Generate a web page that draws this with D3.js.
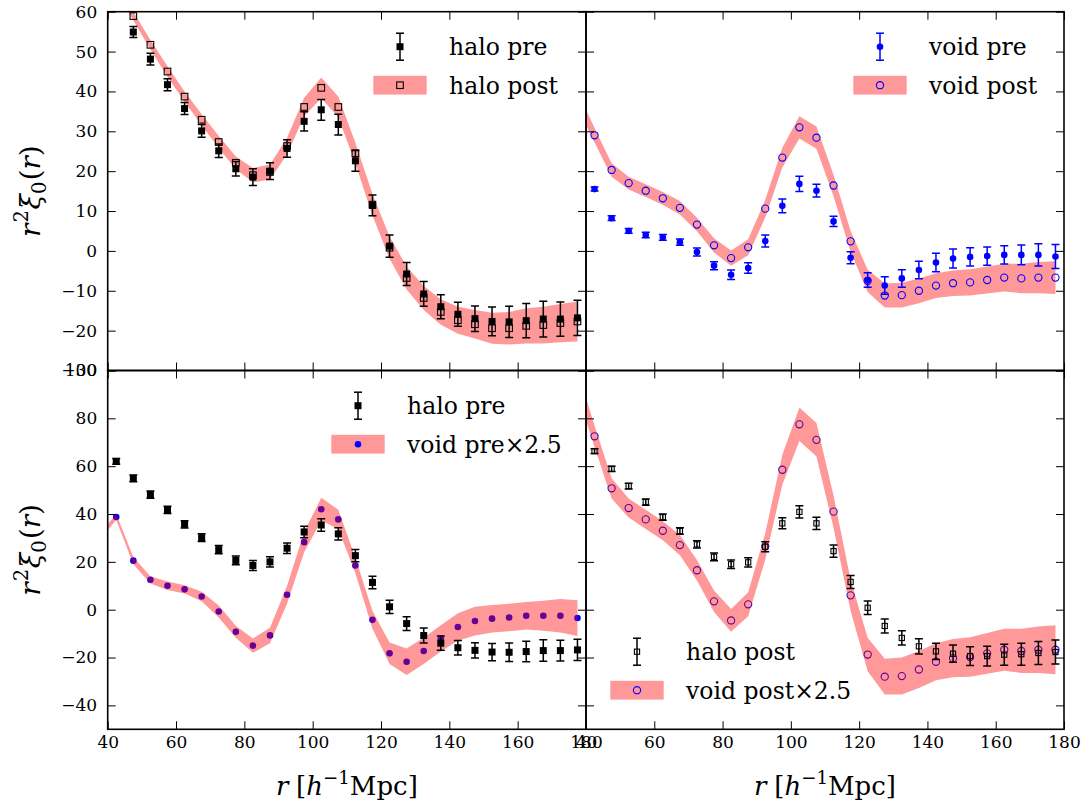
<!DOCTYPE html>
<html>
<head>
<meta charset="utf-8">
<script src="https://cdn.jsdelivr.net/npm/d3@7"></script>
<style>
  body { margin: 0; background: #fff; }
  svg, svg text, svg tspan { font-family: "DejaVu Serif", "Liberation Serif", "Tinos", "Noto Serif", serif; }
</style>
</head>
<body>
<svg id="fig" width="1089" height="807"></svg>
<script>
// Separation bins r [h^-1 Mpc]
const radii = [37.5, 42.5, 47.5, 52.5, 57.5, 62.5, 67.5, 72.5, 77.5, 82.5, 87.5, 92.5, 97.5,
  102.5, 107.5, 112.5, 117.5, 122.5, 127.5, 132.5, 137.5, 142.5, 147.5, 152.5, 157.5,
  162.5, 167.5, 172.5, 177.5];

// r^2 xi_0(r), halo sample before and after reconstruction
const haloPre = [68.0, 62.0, 54.9, 48.1, 41.7, 35.7, 30.1, 25.1, 20.6, 18.5, 20.0, 25.7, 32.5,
  35.4, 31.7, 22.6, 11.4, 1.2, -5.8, -10.8, -14.0, -15.9, -17.0, -17.7, -17.8,
  -17.5, -17.1, -17.1, -16.8];
const haloPreErr = [1.2, 1.2, 1.4, 1.5, 1.5, 1.5, 1.6, 1.7, 1.8, 2.1, 2.1, 2.2, 2.4,
  2.6, 2.6, 2.6, 2.6, 2.8, 2.9, 3.1, 3.0, 3.0, 3.2, 3.6, 3.9,
  4.3, 4.5, 4.3, 4.4];
const haloPost = [73.5, 66.3, 58.9, 51.7, 45.0, 38.7, 32.9, 27.3, 22.1, 19.0, 19.8, 26.3, 36.1,
  40.9, 36.1, 24.5, 11.6, 0.8, -6.8, -11.8, -15.3, -17.4, -18.4, -19.4, -19.4,
  -18.8, -18.6, -18.1, -17.7];
const haloPostErr = [1.0, 1.0, 1.1, 1.2, 1.3, 1.3, 1.4, 1.5, 1.6, 1.8, 1.9, 2.1, 2.3,
  2.6, 2.6, 2.6, 2.7, 2.8, 2.9, 3.0, 3.2, 3.4, 3.6, 3.9, 4.1,
  4.4, 4.6, 4.8, 5.0];

// r^2 xi_0(r), void sample before and after reconstruction
const voidPre = [12.1, 15.5, 8.2, 5.0, 4.0, 3.4, 2.2, -0.3, -3.7, -6.0, -4.3, 2.5, 11.3,
  16.8, 15.1, 7.4, -1.7, -7.3, -8.7, -6.9, -4.8, -2.9, -1.9, -1.5, -1.3,
  -1.0, -1.0, -1.0, -1.4];
const voidPreErr = [0.5, 0.5, 0.6, 0.6, 0.7, 0.7, 0.8, 1.0, 1.0, 1.2, 1.3, 1.5, 1.7,
  1.9, 1.6, 1.3, 1.5, 1.8, 2.2, 2.2, 2.2, 2.3, 2.4, 2.3, 2.3,
  2.3, 2.5, 2.8, 3.0];
const voidPost = [38.0, 29.0, 20.3, 17.0, 15.1, 13.2, 10.8, 6.6, 1.4, -1.8, 0.9, 10.6, 23.4,
  31.0, 28.4, 16.4, 2.4, -7.5, -11.2, -11.1, -10.0, -8.7, -8.1, -7.9, -7.3,
  -6.7, -6.9, -6.7, -6.7];
const voidPostErr = [2.0, 1.8, 1.7, 1.6, 1.6, 1.6, 1.7, 1.7, 1.8, 1.9, 2.0, 2.2, 2.5,
  2.8, 2.8, 2.7, 2.6, 2.8, 3.0, 3.1, 3.1, 3.1, 3.2, 3.3, 3.4,
  3.5, 3.7, 3.9, 4.1];

// Void amplitude rescaling used in the lower panels
const voidScale = 2.5;

// Axis ticks
const xTicks = [40, 60, 80, 100, 120, 140, 160, 180];
const yTicksTop = [-30, -20, -10, 0, 10, 20, 30, 40, 50, 60];
const yTicksBottom = [-40, -20, 0, 20, 40, 60, 80, 100];

// ---------------------------------------------------------------------------
const FONT = '"DejaVu Serif", "Liberation Serif", "Tinos", "Noto Serif", serif';
const svg = d3.select("#fig");
const L = 107.7, XM = 586, R = 1064, T = 11.7, YM = 370.5, B = 729.3;
const BLUE = "#0000ff", RED = "#ff0000", BAND_OPACITY = 0.4;
const TICK = 8, TICK_FONT = 17, LEG_FONT = 23.5, YLABEL_FONT = 28, XLABEL_FONT = 26;
const fmt = v => (v < 0 ? "\u2212" + Math.abs(v) : String(v));

const xCols = [
  d3.scaleLinear().domain([40, 180]).range([L, XM]),
  d3.scaleLinear().domain([40, 180]).range([XM, R])
];
const yTop = d3.scaleLinear().domain([-30, 60]).range([YM, T]);
const yBot = d3.scaleLinear().domain([-50, 100]).range([B, YM]);

const scaled = (arr) => arr.map(v => v * voidScale);
const rows = (vals, errs) => radii.map((r, i) => ({ r, v: vals[i], e: errs ? errs[i] : 0 }));

let clipId = 0;
function makePanel(x, y) {
  const id = "clip" + (clipId++);
  const [x0, x1] = x.range(), [y1, y0] = y.range();
  svg.append("clipPath").attr("id", id).append("rect")
    .attr("x", x0).attr("y", y0).attr("width", x1 - x0).attr("height", y1 - y0);
  const g = svg.append("g").attr("clip-path", `url(#${id})`);
  return { g, x, y, x0, x1, y0, y1 };
}

function band(p, vals, errs) {
  const area = d3.area()
    .x(d => p.x(d.r)).y0(d => p.y(d.v - d.e)).y1(d => p.y(d.v + d.e));
  p.g.append("path").datum(rows(vals, errs))
    .attr("d", area).attr("fill", RED).attr("fill-opacity", BAND_OPACITY).attr("stroke", "none");
}

function marker(sel, kind, color) {
  if (kind === "sq") {
    sel.append("rect").attr("x", -3.5).attr("y", -3.5).attr("width", 7).attr("height", 7)
      .attr("fill", color).attr("stroke", "none");
  } else if (kind === "osq") {
    sel.append("rect").attr("x", -3.3).attr("y", -3.3).attr("width", 6.6).attr("height", 6.6)
      .attr("fill", "none").attr("stroke", color).attr("stroke-width", 1.1);
  } else if (kind === "osqs") {
    sel.append("rect").attr("x", -2.6).attr("y", -2.6).attr("width", 5.2).attr("height", 5.2)
      .attr("fill", "none").attr("stroke", color).attr("stroke-width", 1.1);
  } else if (kind === "dot") {
    sel.append("circle").attr("r", 3.3).attr("fill", color).attr("stroke", "none");
  } else if (kind === "ocirc") {
    sel.append("circle").attr("r", 3.6).attr("fill", "none").attr("stroke", color).attr("stroke-width", 1.1);
  }
}

function markers(p, vals, kind, color) {
  p.g.append("g").selectAll("g").data(rows(vals)).join("g")
    .attr("transform", d => `translate(${p.x(d.r)},${p.y(d.v)})`)
    .each(function () { marker(d3.select(this), kind, color); });
}

function errorbars(p, vals, errs, kind, color) {
  const data = rows(vals, errs);
  const eg = p.g.append("g").attr("stroke", color).attr("stroke-width", 1.5);
  eg.selectAll(".stem").data(data).join("line")
    .attr("x1", d => p.x(d.r)).attr("x2", d => p.x(d.r))
    .attr("y1", d => p.y(d.v - d.e)).attr("y2", d => p.y(d.v + d.e));
  ["lo", "hi"].forEach(side => {
    eg.selectAll(".cap-" + side).data(data).join("line")
      .attr("x1", d => p.x(d.r) - 4).attr("x2", d => p.x(d.r) + 4)
      .attr("y1", d => p.y(side === "lo" ? d.v - d.e : d.v + d.e))
      .attr("y2", d => p.y(side === "lo" ? d.v - d.e : d.v + d.e));
  });
  markers(p, vals, kind, color);
}

function axes(p, yTicks, showX, showY) {
  const ax = svg.append("g");
  const clean = sel => {
    sel.attr("font-family", FONT).attr("font-size", TICK_FONT);
    sel.select(".domain").remove();
    sel.selectAll(".tick line").attr("stroke-width", 1);
    sel.selectAll("text").attr("font-family", FONT).attr("font-size", TICK_FONT);
  };
  const bottom = d3.axisBottom(p.x).tickValues(xTicks).tickSize(-TICK).tickSizeOuter(0).tickPadding(7)
    .tickFormat(showX ? fmt : "");
  const top = d3.axisTop(p.x).tickValues(xTicks).tickSize(-TICK).tickSizeOuter(0).tickFormat("");
  const left = d3.axisLeft(p.y).tickValues(yTicks).tickSize(-TICK).tickSizeOuter(0).tickPadding(10.5)
    .tickFormat(showY ? fmt : "");
  const right = d3.axisRight(p.y).tickValues(yTicks).tickSize(-TICK).tickSizeOuter(0).tickFormat("");
  ax.append("g").attr("transform", `translate(0,${p.y1})`).call(bottom).call(clean);
  ax.append("g").attr("transform", `translate(0,${p.y0})`).call(top).call(clean);
  ax.append("g").attr("transform", `translate(${p.x0},0)`).call(left).call(clean);
  ax.append("g").attr("transform", `translate(${p.x1},0)`).call(right).call(clean);
  svg.append("rect").attr("x", p.x0).attr("y", p.y0).attr("width", p.x1 - p.x0).attr("height", p.y1 - p.y0)
    .attr("fill", "none").attr("stroke", "#000").attr("stroke-width", 1.6);
}

// Legend: rows of [symbol, label]; symbol is either an errorbar glyph or a band patch with a marker
function legend(cx, cy0, textX, entries) {
  const lg = svg.append("g").attr("font-size", LEG_FONT).attr("font-family", FONT);
  entries.forEach((e, i) => {
    const cy = cy0 + i * 38.5;
    const s = lg.append("g").attr("transform", `translate(${cx},${cy})`);
    if (e.type === "err") {
      s.append("line").attr("y1", -13.5).attr("y2", 13.5).attr("stroke", e.color).attr("stroke-width", 1.5);
      [-13.5, 13.5].forEach(yy => s.append("line").attr("x1", -4).attr("x2", 4).attr("y1", yy).attr("y2", yy)
        .attr("stroke", e.color).attr("stroke-width", 1.5));
      marker(s, e.kind, e.color);
    } else {
      s.append("rect").attr("x", -26.7).attr("y", -9.4).attr("width", 53.4).attr("height", 18.8)
        .attr("fill", RED).attr("fill-opacity", BAND_OPACITY);
      marker(s, e.kind, e.color);
    }
    lg.append("text").attr("x", textX).attr("y", cy + 8.5).attr("fill", "#000")
      .attr("font-family", FONT).text(e.label);
  });
}

// Math-style text assembled from tspans; shift in em (negative raises)
function mathText(sel, parts, size) {
  let prev = 0;
  parts.forEach(pt => {
    const shift = pt.shift || 0;
    const fs = pt.small ? size * 0.7 : size;
    const ts = sel.append("tspan")
      .attr("dy", ((shift - prev) * size).toFixed(2))
      .attr("font-size", fs)
      .attr("font-family", FONT)
      .attr("font-style", pt.it ? "italic" : "normal")
      .text(pt.t);
    if (pt.dx) ts.attr("dx", pt.dx * size);
    prev = shift;
  });
}

// ---------------------------------------------------------------------------
// Top left: halo pre vs halo post
const tl = makePanel(xCols[0], yTop);
band(tl, haloPost, haloPostErr);
markers(tl, haloPost, "osq", "#000");
errorbars(tl, haloPre, haloPreErr, "sq", "#000");
axes(tl, yTicksTop, false, true);

// Top right: void pre vs void post
const tr = makePanel(xCols[1], yTop);
band(tr, voidPost, voidPostErr);
markers(tr, voidPost, "ocirc", BLUE);
errorbars(tr, voidPre, voidPreErr, "dot", BLUE);
axes(tr, yTicksTop, false, false);

// Bottom left: halo pre vs scaled void pre
const bl = makePanel(xCols[0], yBot);
markers(bl, scaled(voidPre), "dot", BLUE);
band(bl, scaled(voidPre), scaled(voidPreErr));
errorbars(bl, haloPre, haloPreErr, "sq", "#000");
axes(bl, yTicksBottom, true, true);

// Bottom right: halo post vs scaled void post
const br = makePanel(xCols[1], yBot);
markers(br, scaled(voidPost), "ocirc", BLUE);
band(br, scaled(voidPost), scaled(voidPostErr));
errorbars(br, haloPost, haloPostErr, "osqs", "#000");
axes(br, yTicksBottom, true, false);

legend(400, 46.7, 449, [
  { type: "err", kind: "sq", color: "#000", label: "halo pre" },
  { type: "band", kind: "osq", color: "#000", label: "halo post" }
]);
legend(880, 46.7, 929, [
  { type: "err", kind: "dot", color: BLUE, label: "void pre" },
  { type: "band", kind: "ocirc", color: BLUE, label: "void post" }
]);
legend(358, 405.7, 407, [
  { type: "err", kind: "sq", color: "#000", label: "halo pre" },
  { type: "band", kind: "dot", color: BLUE, label: "void pre\u00d72.5" }
]);
legend(637, 651.7, 686, [
  { type: "err", kind: "osqs", color: "#000", label: "halo post" },
  { type: "band", kind: "ocirc", color: BLUE, label: "void post\u00d72.5" }
]);

// Axis labels
const yLabelParts = [
  { t: "r", it: true }, { t: "2", small: true, shift: -0.42, dx: 0.04 }, { t: "\u03be", it: true, dx: 0.02 },
  { t: "0", small: true, shift: 0.22 }, { t: "(", shift: 0, dx: 0.04 }, { t: "r", it: true }, { t: ")" }
];
[(T + YM) / 2, (YM + B) / 2].forEach(cy => {
  const t = svg.append("text").attr("text-anchor", "middle").attr("font-size", YLABEL_FONT)
    .attr("font-family", FONT)
    .attr("transform", `translate(40,${cy}) rotate(-90)`);
  mathText(t, yLabelParts, YLABEL_FONT);
});
const xLabelParts = [
  { t: "r", it: true }, { t: "[", dx: 0.3 }, { t: "h", it: true },
  { t: "\u22121", small: true, shift: -0.42 }, { t: "Mpc", shift: 0 }, { t: "]" }
];
[(L + XM) / 2, (XM + R) / 2].forEach(cx => {
  const t = svg.append("text").attr("text-anchor", "middle").attr("font-size", XLABEL_FONT)
    .attr("font-family", FONT)
    .attr("x", cx).attr("y", 795);
  mathText(t, xLabelParts, XLABEL_FONT);
});
</script>
</body>
</html>
